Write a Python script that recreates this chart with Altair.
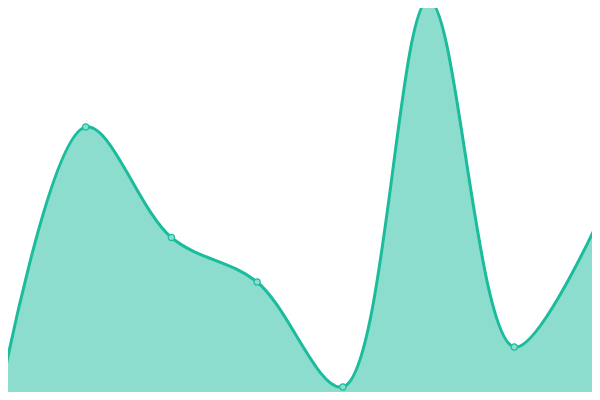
import altair as alt
import pandas as pd

xs = [0, 1, 2, 3, 4, 5, 6, 7]
values = [4, 273, 162.5, 118, 13, 400, 53, 183]

df = pd.DataFrame({"x": xs, "v": values})

# The page has an 8px margin, so the drawable box is page pixels 8..592 x 8..392.
# Scale domains are set so that the curve lands at the same page pixels as the reference.
step = 600 / 7
xscale = alt.Scale(domain=[8 / step, 592 / step], nice=False, zero=False)
yscale = alt.Scale(domain=[8, 392], nice=False, zero=False)

base = alt.Chart(df).encode(
    x=alt.X("x:Q", scale=xscale, axis=None),
    y=alt.Y("v:Q", scale=yscale, axis=None),
)

area = base.mark_area(
    interpolate="catmull-rom",
    color="#1abc9c",
    fillOpacity=0.5,
    line={"color": "#1abc9c", "strokeWidth": 3},
)
pts = base.mark_point(
    filled=True, size=40, fill="#8cddcd", stroke="#1abc9c", strokeWidth=1.2, opacity=1
)

chart = (area + pts).properties(
    width=584,
    height=384,
    padding=0,
    autosize=alt.AutoSizeParams(type="none"),
).configure_view(stroke=None)

chart.save("out.html", embed_options={"renderer": "svg", "actions": False})
